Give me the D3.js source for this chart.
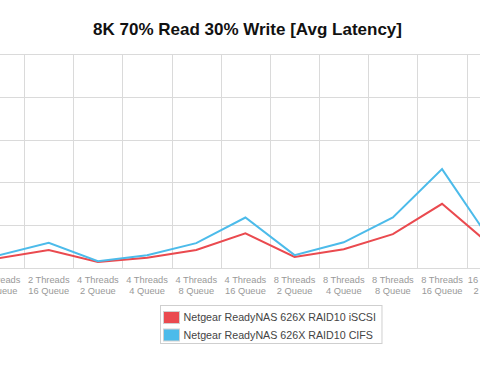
<!DOCTYPE html>
<html lang="en">
<head>
    <meta charset="UTF-8">
    <title>8K 70% Read 30% Write [Avg Latency]</title>
    <script src="https://d3js.org/d3.v7.min.js"></script>
    <style>
        body { margin: 0; background: #fff; }
        svg { display: block; font-family: "Liberation Sans", Arial, sans-serif; }
        .grid line { stroke: #dadada; stroke-width: 1; }
        .xlabel { fill: #999; font-size: 9.3px; }
        .legend text { fill: #444; font-size: 10.7px; }
    </style>
</head>
<body>
    <div id="chart"></div>
    <script>
        // visible part of the chart (it is cropped on both sides)
        const categories = [
            "2 Threads|8 Queue", "2 Threads|16 Queue", "4 Threads|2 Queue", "4 Threads|4 Queue",
            "4 Threads|8 Queue", "4 Threads|16 Queue", "8 Threads|2 Queue", "8 Threads|4 Queue",
            "8 Threads|8 Queue", "8 Threads|16 Queue", "16 Threads|2 Queue"
        ];
        const iscsi = [2.3, 4.2, 1.4, 2.4, 4.2, 8.1, 2.6, 4.4, 7.9, 15.0, 5.2];
        const cifs = [3.0, 5.9, 1.6, 3.0, 5.8, 11.8, 3.0, 6.0, 11.8, 23.1, 6.2];
        const yTicks = [0, 10, 20, 30, 40, 50];
        const seriesNames = ["Netgear ReadyNAS 626X RAID10 iSCSI", "Netgear ReadyNAS 626X RAID10 CIFS"];
        const colors = ["#ea4a4f", "#4cbbea"];

        const width = 480, height = 372;
        const plotTop = 54, plotBottom = 268;

        const svg = d3.select("#chart")
            .append("svg")
            .attr("width", width)
            .attr("height", height);

        svg.append("text")
            .attr("x", 247.5)
            .attr("y", 35)
            .attr("text-anchor", "middle")
            .style("font-size", "17px")
            .style("font-weight", "bold")
            .style("fill", "#111")
            .text("8K 70% Read 30% Write [Avg Latency]");

        const x = d3.scaleBand()
            .domain(categories)
            .range([-25, 515.8]);

        const y = d3.scaleLinear()
            .domain([0, 50])
            .range([plotBottom, plotTop]);

        const grid = svg.append("g").attr("class", "grid");

        grid.selectAll(".h")
            .data(yTicks)
            .enter()
            .append("line")
            .attr("x1", 0)
            .attr("x2", width)
            .attr("y1", d => Math.round(y(d)) + 0.5)
            .attr("y2", d => Math.round(y(d)) + 0.5);

        grid.selectAll(".v")
            .data(categories)
            .enter()
            .append("line")
            .attr("x1", d => Math.round(x(d) + x.bandwidth()) + 0.5)
            .attr("x2", d => Math.round(x(d) + x.bandwidth()) + 0.5)
            .attr("y1", Math.round(y(50)))
            .attr("y2", Math.round(y(0)) + 1);

        // category labels, two lines each
        const labels = svg.selectAll(".xlabel")
            .data(categories)
            .enter()
            .append("text")
            .attr("class", "xlabel")
            .attr("text-anchor", "middle")
            .attr("transform", d => `translate(${x(d) + x.bandwidth() / 2},0)`);

        labels.append("tspan")
            .attr("x", 0)
            .attr("y", 283)
            .text(d => d.split("|")[0]);

        labels.append("tspan")
            .attr("x", 0)
            .attr("y", 294)
            .text(d => d.split("|")[1]);

        const line = d3.line()
            .x((d, i) => x(categories[i]) + x.bandwidth() / 2)
            .y(d => y(d));

        [iscsi, cifs].forEach((values, k) => {
            svg.append("path")
                .datum(values)
                .attr("fill", "none")
                .attr("stroke", colors[k])
                .attr("stroke-width", 2)
                .attr("stroke-linejoin", "miter")
                .attr("d", line);
        });

        // legend
        const legend = svg.append("g").attr("class", "legend");
        const box = legend.append("rect")
            .attr("x", 160.5)
            .attr("y", 305.5)
            .attr("height", 38)
            .attr("fill", "#fff")
            .attr("stroke", "#cfcfcf");

        let maxLen = 0;
        seriesNames.forEach((name, k) => {
            const rowY = 311 + k * 17.5;
            legend.append("rect")
                .attr("x", 163.5)
                .attr("y", rowY + 0.5)
                .attr("width", 16)
                .attr("height", 12)
                .attr("fill", colors[k])
                .attr("stroke", "#d0d0d0");
            const t = legend.append("text")
                .attr("x", 183.5)
                .attr("y", rowY + 10)
                .text(name);
            maxLen = Math.max(maxLen, t.node().getComputedTextLength());
        });
        box.attr("width", 183.5 + maxLen + 6 - 160.5);
    </script>
</body>
</html>
